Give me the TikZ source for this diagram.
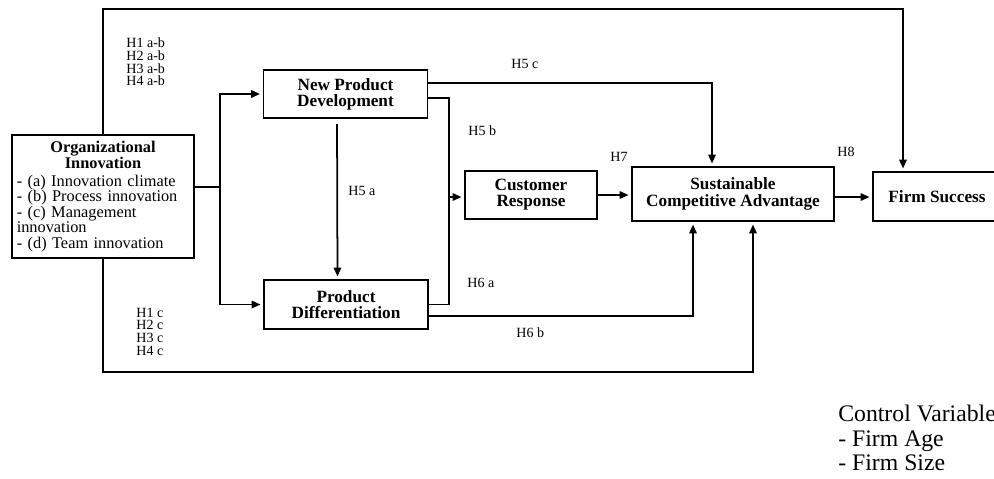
\documentclass[tikz,border=0pt]{standalone}
\usepackage{fontspec}
\setmainfont{Liberation Serif}
\usetikzlibrary{arrows.meta}

\begin{document}
\begin{tikzpicture}[x=0.02cm,y=-0.02cm,
  box/.style={rectangle,draw,line width=1pt,font=\fontsize{9.8}{9.2}\selectfont\bfseries,
    align=center,inner sep=2pt},
  hyp/.style={font=\fontsize{8}{7.2}\selectfont,align=left,anchor=west,inner sep=0pt},
  arr/.style={-{Triangle[length=5pt,width=4.2pt]},line width=1pt,shorten >=1.5pt},
  link/.style={line width=1pt}]
  \useasboundingbox (0,0) rectangle (994,478);
  % constructs
  \node[box,minimum width=3.64cm,minimum height=2.46cm,text width=3.45cm,align=left,
    font=\fontsize{9.3}{8.8}\selectfont] (org) at (103,196.5)
    {{\centering\bfseries Organizational\\Innovation\par}\vspace{1.5pt}%
     - (a) Innovation climate\\- (b) Process innovation\\- (c) Management\\innovation\\- (d) Team innovation};
  \node[box,minimum width=3.28cm,minimum height=0.96cm] (npd) at (345.5,94) {New Product\\Development};
  \node[box,minimum width=3.28cm,minimum height=0.98cm] (pd) at (346,304.5) {Product\\Differentiation};
  \node[box,minimum width=2.64cm,minimum height=0.96cm] (cr) at (531,195) {Customer\\Response};
  \node[box,minimum width=4.04cm,minimum height=1.08cm] (sca) at (733,194) {Sustainable\\Competitive Advantage};
  \node[box,minimum width=2.56cm,minimum height=0.98cm] (fs) at (937,196.5) {Firm Success};
  % junctions
  \coordinate (split) at (220,187);
  \coordinate (merge) at (449,197);
  \coordinate (roof) at (0,9);
  \coordinate (floor) at (0,372);
  % Organizational Innovation to both product constructs
  \draw[link] (org.east |- split) -- (split);
  \draw[arr] (split) |- (npd.west);
  \draw[arr] (split) |- (pd.west);
  % H5 a
  \draw[arr,shorten <=3pt] ([xshift=-0.17cm]npd.south) -- ([xshift=-0.17cm]pd.north);
  % H5 c
  \draw[arr] ([yshift=0.22cm]npd.east) -| ([xshift=-0.42cm]sca.north);
  % H5 b and H6 a into Customer Response
  \draw[link] ([yshift=-0.08cm]npd.east) -| (merge);
  \draw[link] (pd.east) -| (merge);
  \draw[arr] (merge) -- (merge -| cr.west);
  % H7, H8
  \draw[arr] (cr.east) -- (cr.east -| sca.west);
  \draw[arr] ([yshift=-0.06cm]sca.east) -- ([yshift=-0.06cm]sca.east -| fs.west);
  % H6 b
  \draw[arr] ([yshift=-0.23cm]pd.east) -| ([xshift=-0.8cm]sca.south);
  % direct paths from Organizational Innovation
  \draw[arr] (org.north) -- (org.north |- roof) -| ([xshift=-0.68cm]fs.north);
  \draw[arr] (org.south) -- (org.south |- floor) -| ([xshift=0.4cm]sca.south);
  % hypothesis labels
  \node[hyp] (h1ab) at (126,62) {H1 a-b\\H2 a-b\\H3 a-b\\H4 a-b};
  \node[hyp] (h1c) at (136,331.5) {H1 c\\H2 c\\H3 c\\H4 c};
  \node[hyp] (h5a) at (348,191) {H5 a};
  \node[hyp] (h5b) at (468,131) {H5 b};
  \node[hyp] (h5c) at (511,64) {H5 c};
  \node[hyp] (h6a) at (467,283) {H6 a};
  \node[hyp] (h6b) at (516,333) {H6 b};
  \node[hyp] (h7) at (610,157) {H7};
  \node[hyp] (h8) at (837,152) {H8};
  % control variables
  \node[hyp,font=\fontsize{13.5}{14}\selectfont] (ctrl) at (838,438) {Control Variable\\- Firm Age\\- Firm Size};
\end{tikzpicture}
\end{document}
